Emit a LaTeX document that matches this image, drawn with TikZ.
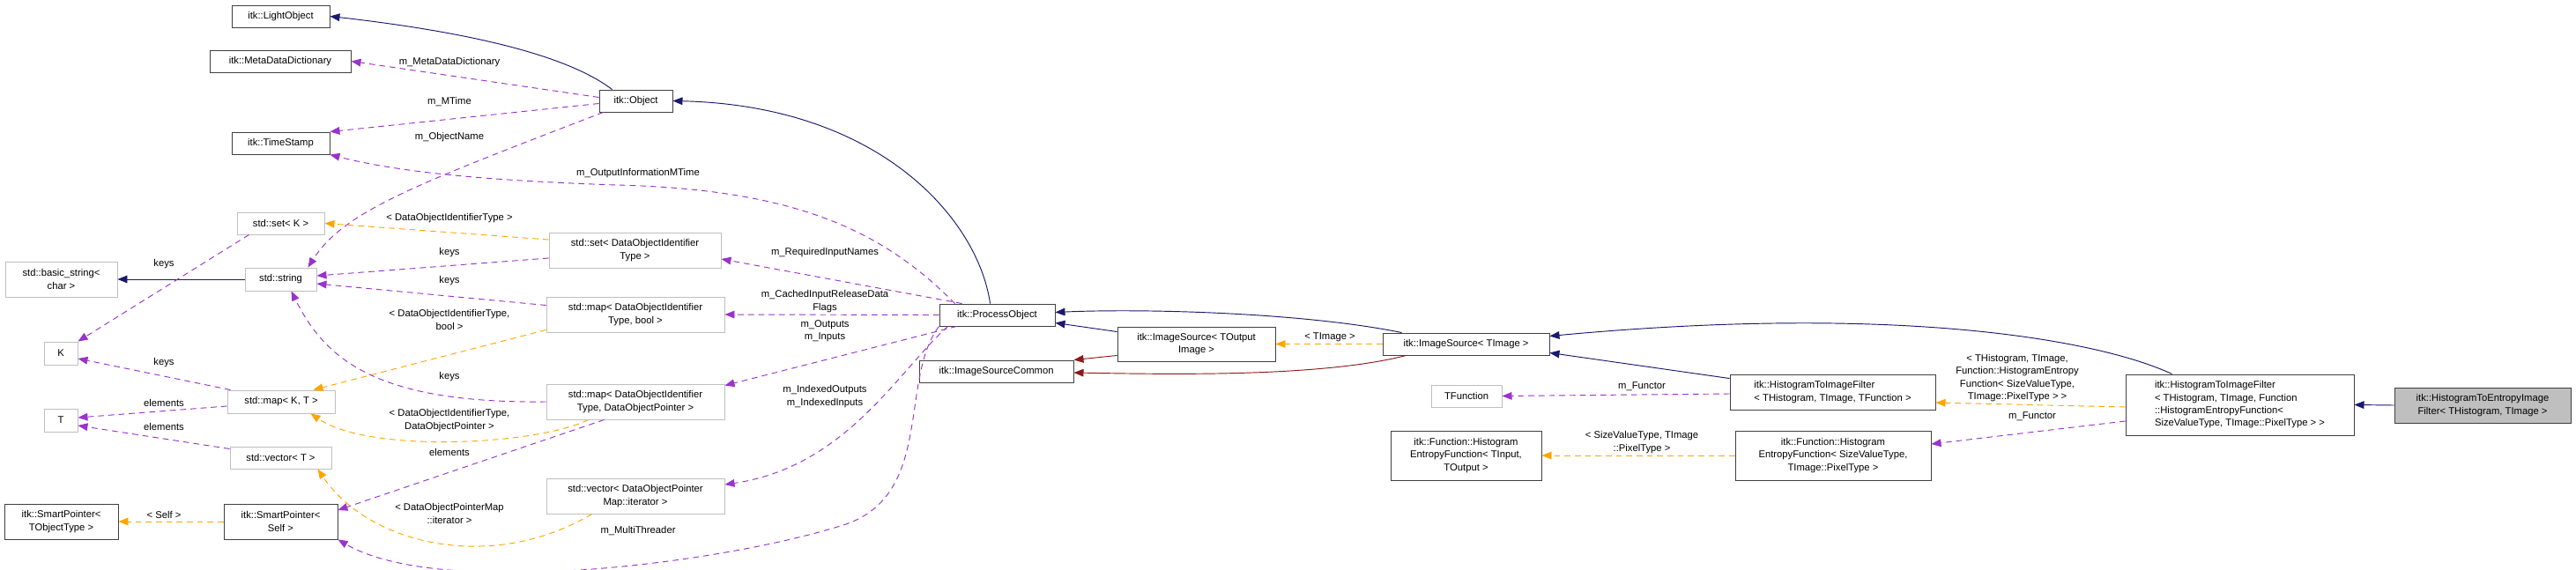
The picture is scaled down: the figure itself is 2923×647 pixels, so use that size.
\documentclass[tikz,border=0pt]{standalone}
\usepackage{fontspec}
\setmainfont{Liberation Sans}
\usetikzlibrary{arrows.meta,calc}
\definecolor{inhc}{HTML}{191970}
\definecolor{usec}{HTML}{9A32CD}
\definecolor{tplc}{HTML}{FFA500}
\definecolor{redc}{HTML}{8B1A1A}
\definecolor{grayb}{HTML}{BFBFBF}
\definecolor{darkb}{HTML}{404040}
\tikzset{
 base/.style={rectangle, inner sep=0pt, align=center, font=\fontsize{9.6}{12.2}\selectfont, line width=0.8pt},
 cls/.style={base, draw=darkb, fill=white},
 ext/.style={base, draw=grayb, fill=white},
 fin/.style={base, draw=darkb, fill=grayb},
 tip/.style={-{Triangle[length=3.3mm,width=2.6mm]}},
 inh/.style={tip, draw=inhc, line width=0.8pt},
 prv/.style={tip, draw=redc, line width=0.8pt},
 use/.style={tip, draw=usec, line width=0.8pt, dash pattern=on 2mm off 1.5mm},
 tpl/.style={tip, draw=tplc, line width=0.8pt, dash pattern=on 2mm off 1.5mm},
 lbl/.style={align=center, inner sep=0pt, font=\fontsize{9.6}{12.2}\selectfont},
}
\newcommand\bx[7]{\node[#6, minimum width={(#4-#2)*0.3mm}, minimum height={(#5-#3)*0.3mm}] (#1) at ({(#2+#4)/2},{(#3+#5)/2}) {#7};}
\begin{document}
\begin{tikzpicture}[x=0.3mm,y=-0.3mm]
\useasboundingbox[fill=white] (0,0) rectangle (2923,647);
% nodes
\bx{light}{263}{6}{374}{31}{cls}{itk::LightObject}
\bx{mdd}{238}{57}{398}{82}{cls}{itk::MetaDataDictionary}
\bx{ts}{263}{150}{374}{175}{cls}{itk::TimeStamp}
\bx{obj}{680}{102}{763}{127}{cls}{itk::Object}
\bx{setK}{269}{241}{368}{266}{ext}{std::set< K >}
\bx{bs}{6}{297}{133}{337}{ext}{std::basic\_string<\\char >}
\bx{str}{278}{304}{359}{330}{ext}{std::string}
\bx{K}{50}{388}{88}{414}{ext}{K}
\bx{T}{50}{464}{88}{490}{ext}{T}
\bx{mapKT}{258}{443}{380}{469}{ext}{std::map< K, T >}
\bx{vecT}{261}{507}{376}{532}{ext}{std::vector< T >}
\bx{spt}{5}{572}{134}{612}{cls}{itk::SmartPointer<\\TObjectType >}
\bx{sps}{254}{572}{383}{612}{cls}{itk::SmartPointer<\\Self >}
\bx{setD}{623}{264}{818}{304}{ext}{std::set< DataObjectIdentifier\\Type >}
\bx{mapB}{620}{337}{822}{377}{ext}{std::map< DataObjectIdentifier\\Type, bool >}
\bx{mapDOP}{620}{436}{822}{476}{ext}{std::map< DataObjectIdentifier\\Type, DataObjectPointer >}
\bx{vecDOP}{620}{543}{822}{583}{ext}{std::vector< DataObjectPointer\\Map::iterator >}
\bx{po}{1066}{345}{1197}{370}{cls}{itk::ProcessObject}
\bx{isto}{1268}{371}{1447}{410}{cls}{itk::ImageSource< TOutput\\Image >}
\bx{isc}{1043}{409}{1218}{434}{cls}{itk::ImageSourceCommon}
\bx{ist}{1569}{378}{1758}{403}{cls}{itk::ImageSource< TImage >}
\bx{tf}{1624}{437}{1704}{462}{ext}{TFunction}
\bx{htif}{1963}{425}{2196}{465}{cls}{\begin{tabular}{@{}l@{}}itk::HistogramToImageFilter\\< THistogram, TImage, TFunction >\end{tabular}}
\bx{heft}{1578}{489}{1749}{545}{cls}{itk::Function::Histogram\\EntropyFunction< TInput,\\TOutput >}
\bx{hefs}{1969}{489}{2191}{545}{cls}{itk::Function::Histogram\\EntropyFunction< SizeValueType,\\TImage::PixelType >}
\bx{htiff}{2412}{425}{2671}{494}{cls}{\begin{tabular}{@{}l@{}}itk::HistogramToImageFilter\\< THistogram, TImage, Function\\::HistogramEntropyFunction<\\ SizeValueType, TImage::PixelType > >\end{tabular}}
\bx{final}{2717}{440}{2917}{480}{fin}{itk::HistogramToEntropyImage\\Filter< THistogram, TImage >}
% labels
\node[lbl] (l1) at (510,71) {m\_MetaDataDictionary};
\node[lbl] (l2) at (510,116) {m\_MTime};
\node[lbl] (l3) at (510,156) {m\_ObjectName};
\node[lbl] (l4) at (724,197) {m\_OutputInformationMTime};
\node[lbl] (l5) at (510,248) {< DataObjectIdentifierType >};
\node[lbl] (l6) at (510,287) {keys};
\node[lbl] (l7) at (510,319) {keys};
\node[lbl] (l8) at (186,300) {keys};
\node[lbl] (l9) at (510,363) {< DataObjectIdentifierType,\\bool >};
\node[lbl] (l10) at (186,412) {keys};
\node[lbl] (l11) at (510,428) {keys};
\node[lbl] (l12) at (186,457) {elements};
\node[lbl] (l13) at (510,477) {< DataObjectIdentifierType,\\DataObjectPointer >};
\node[lbl] (l14) at (186,484) {elements};
\node[lbl] (l15) at (510,513) {elements};
\node[lbl] (l16) at (186,584) {< Self >};
\node[lbl] (l17) at (510,583) {< DataObjectPointerMap\\::iterator >};
\node[lbl] (l18) at (724,603) {m\_MultiThreader};
\node[lbl] (l19) at (936,287) {m\_RequiredInputNames};
\node[lbl] (l20) at (936,342) {m\_CachedInputReleaseData\\Flags};
\node[lbl] (l21) at (936,376) {m\_Outputs\\m\_Inputs};
\node[lbl] (l22) at (936,450) {m\_IndexedOutputs\\m\_IndexedInputs};
\node[lbl] (l23) at (1509,383) {< TImage >};
\node[lbl] (l24) at (1863,439) {m\_Functor};
\node[lbl] (l25) at (1863,502) {< SizeValueType, TImage\\::PixelType >};
\node[lbl] (l26) at (2289,429) {< THistogram, TImage,\\Function::HistogramEntropy\\Function< SizeValueType,\\TImage::PixelType > >};
\node[lbl] (l27) at (2306,473) {m\_Functor};
% edges
\draw[inh] ($(obj.north west)+(15,0)$) .. controls (640,60) and (520,35) .. (light.east);
\draw[use] ($(obj.west)+(0,-4)$) -- (mdd.east);
\draw[use] ($(obj.west)+(0,3)$) -- (ts.north east);
\draw[use] ($(obj.south west)+(5,0)$) .. controls (470,210) and (390,240) .. ($(str.north east)+(-10,0)$);
\draw[inh] ($(po.north west)+(58,0)$) .. controls (1110,250) and (1000,120) .. (obj.east);
\draw[use] ($(po.north west)+(18,0)$) .. controls (1000,260) and (900,215) .. (700,210) .. controls (550,205) and (450,195) .. (ts.south east);
\draw[tpl] ($(setD.west)+(0,-12)$) -- (setK.east);
\draw[use] ($(setD.west)+(0,9)$) -- ($(str.east)+(0,-4)$);
\draw[use] ($(mapB.north west)+(0,10)$) -- ($(str.east)+(0,5)$);
\draw[inh] (str.west) -- (bs.east);
\draw[use] ($(setK.south west)+(14,0)$) -- (K.north east);
\draw[use] ($(mapKT.north west)+(4,0)$) -- ($(K.east)+(0,6)$);
\draw[use] ($(mapKT.west)+(0,5)$) -- ($(T.east)+(0,-3)$);
\draw[use] ($(vecT.west)+(0,-10)$) -- ($(T.east)+(0,6)$);
\draw[tpl] ($(mapB.south west)+(0,-3)$) -- ($(mapKT.north east)+(-25,0)$);
\draw[tpl] ($(mapDOP.south west)+(48,0)$) .. controls (610,505) and (420,515) .. ($(mapKT.south east)+(-28,0)$);
\draw[use] (mapDOP.west) .. controls (430,458) and (370,410) .. ($(str.south east)+(-29,0)$);
\draw[use] ($(mapDOP.south west)+(66,0)$) -- ($(sps.east)+(0,-13)$);
\draw[tpl] ($(vecDOP.south west)+(52,0)$) .. controls (560,650) and (420,620) .. ($(vecT.south east)+(-16,0)$);
\draw[tpl] (sps.west) -- (spt.east);
\draw[use] ($(po.north west)+(26,0)$) -- ($(setD.east)+(0,10)$);
\draw[use] (po.west) -- (mapB.east);
\draw[use] ($(po.south west)+(20,0)$) -- ($(mapDOP.north east)+(0,2)$);
\draw[use] ($(po.south west)+(10,0)$) .. controls (1020,420) and (960,530) .. ($(vecDOP.east)+(0,-13)$);
\draw[use] (po.south west) .. controls (1020,430) and (1060,560) .. (960,595) .. controls (820,640) and (500,680) .. (sps.south east);
\draw[inh] ($(isto.north west)+(0,6)$) -- ($(po.east)+(0,9)$);
\draw[prv] ($(isto.south west)+(0,-7)$) -- (isc.north east);
\draw[inh] ($(ist.north west)+(22,0)$) .. controls (1480,355) and (1300,350) .. ($(po.east)+(0,-3)$);
\draw[prv] ($(ist.south west)+(27,0)$) .. controls (1500,428) and (1330,425) .. ($(isc.east)+(0,1.5)$);
\draw[tpl] (ist.west) -- (isto.east);
\draw[inh] ($(htif.north west)+(0,5)$) -- ($(ist.south east)+(0,-3)$);
\draw[use] ($(htif.west)+(0,2)$) -- (tf.east);
\draw[tpl] (hefs.west) -- (heft.east);
\draw[inh] ($(htiff.north west)+(53,0)$) .. controls (2380,385) and (2150,345) .. ($(ist.east)+(0,-9)$);
\draw[tpl] ($(htiff.west)+(0,2.5)$) -- ($(htif.east)+(0,12)$);
\draw[use] ($(htiff.west)+(0,18.5)$) -- ($(hefs.east)+(0,-13)$);
\draw[inh] (final.west) -- (htiff.east);
\end{tikzpicture}
\end{document}
